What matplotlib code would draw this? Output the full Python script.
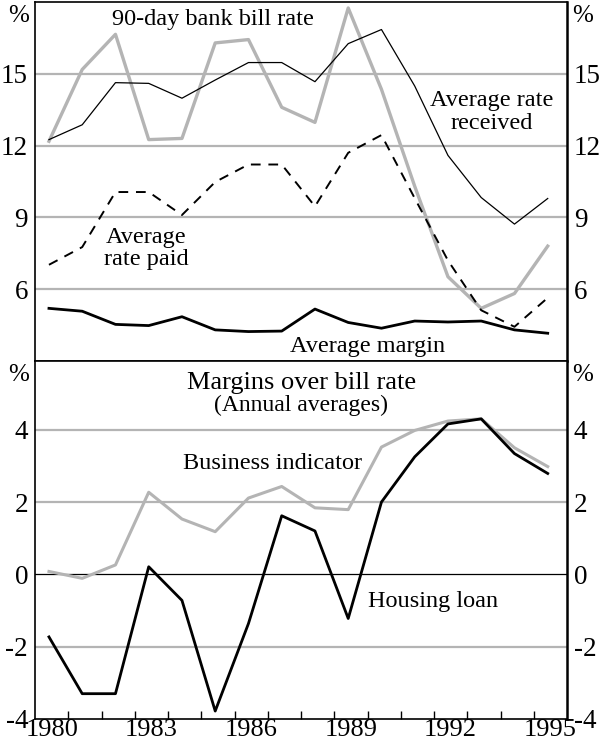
import matplotlib
matplotlib.use("Agg")
import matplotlib.pyplot as plt

plt.rcParams['font.family'] = ['Liberation Serif', 'DejaVu Serif']

years = list(range(1980, 1996))

# top panel (%)
bill_rate = [12.18, 15.18, 16.65, 12.25, 12.3, 16.29, 16.43, 13.6,
             12.97, 17.75, 14.35, 10.3, 6.52, 5.2, 5.82, 7.8]
rate_received = [12.25, 12.87, 14.63, 14.6, 13.98, 14.74, 15.47, 15.47,
                 14.67, 16.26, 16.85, 14.49, 11.59, 9.83, 8.72, 9.79]
rate_paid = [7.02, 7.76, 10.06, 10.06, 9.1, 10.48, 11.21, 11.21,
             9.46, 11.7, 12.44, 9.8, 7.2, 5.12, 4.43, 5.64]
avg_margin = [5.2, 5.08, 4.53, 4.48, 4.85, 4.3, 4.23, 4.25,
              5.17, 4.61, 4.37, 4.67, 4.63, 4.67, 4.3, 4.16]

# bottom panel: margins over bill rate (%)
business = [0.08, -0.11, 0.26, 2.27, 1.53, 1.18, 2.11, 2.43,
            1.84, 1.79, 3.52, 3.98, 4.24, 4.3, 3.5, 2.98]
housing = [-1.73, -3.3, -3.3, 0.21, -0.72, -3.78, -1.36, 1.62,
           1.2, -1.22, 2.0, 3.25, 4.16, 4.3, 3.34, 2.79]

top_ticks = [6, 9, 12, 15]
bot_ticks = [-4, -2, 0, 2, 4]
year_labels = [1980, 1983, 1986, 1989, 1992, 1995]

x = [y + 0.42 for y in years]
grey = '#b4b4b4'
fs_tick = 19.5
fs_note = 17.5

fig = plt.figure(figsize=(6, 7.47), dpi=100)
ax1 = fig.add_axes([35/600, 1-361/747, 532/600, 359/747])
ax2 = fig.add_axes([35/600, 1-719/747, 532/600, 358/747])

for ax in (ax1, ax2):
    ax.set_xlim(1980, 1996)
    for s in ax.spines.values():
        s.set_linewidth(1.2)
    ax.spines['right'].set_linewidth(1.8)
    ax.tick_params(axis='y', length=0, labelsize=fs_tick, pad=5,
                   left=True, right=True, labelleft=True, labelright=True)

# ---- top panel
ax1.set_ylim(3, 18)
for g in top_ticks:
    ax1.axhline(g, color=grey, lw=1.6, zorder=1)
ax1.plot(x, bill_rate, color=grey, lw=2.4, zorder=2)
ax1.plot(x, rate_received, color='black', lw=0.9, zorder=3)
ax1.plot(x, rate_paid, color='black', lw=1.4, ls=(0, (5, 4)), zorder=3)
ax1.plot(x, avg_margin, color='black', lw=2.0, zorder=3)
ax1.set_yticks(top_ticks)
ax1.set_yticklabels([str(t) for t in top_ticks])
ax1.set_xticks([])
ax1.text(-0.03, 0.962, '%', transform=ax1.transAxes, ha='center', va='center', fontsize=18)
ax1.text(1.03, 0.962, '%', transform=ax1.transAxes, ha='center', va='center', fontsize=18)

ax1.text(1985.35, 17.27, '90-day bank bill rate', ha='center', va='center', fontsize=fs_note)
ax1.text(1993.75, 13.4, 'Average rate\nreceived', ha='center', va='center',
         fontsize=fs_note, linespacing=1.15)
ax1.text(1983.35, 7.7, 'Average\nrate paid', ha='center', va='center',
         fontsize=fs_note, linespacing=1.05)
ax1.text(1990.0, 3.62, 'Average margin', ha='center', va='center', fontsize=fs_note)

# ---- bottom panel
ax2.set_ylim(-4, 5.9)
for g in [-2, 2, 4]:
    ax2.axhline(g, color=grey, lw=1.6, zorder=1)
ax2.axhline(0, color='black', lw=0.9, zorder=1)
ax2.plot(x, business, color=grey, lw=2.2, zorder=2)
ax2.plot(x, housing, color='black', lw=2.0, zorder=3)
ax2.set_yticks(bot_ticks)
ax2.set_yticklabels([str(t) for t in bot_ticks])
ax2.set_xticks(range(1981, 1996))
ax2.set_xticklabels([])
ax2.tick_params(axis='x', direction='in', length=6, width=1)
ax2.set_xticks([y + 0.5 for y in year_labels], minor=True)
ax2.set_xticklabels([str(y) for y in year_labels], minor=True)
ax2.tick_params(axis='x', which='minor', length=0, labelsize=19, pad=0)
ax2.text(-0.03, 0.96, '%', transform=ax2.transAxes, ha='center', va='center', fontsize=18)
ax2.text(1.03, 0.96, '%', transform=ax2.transAxes, ha='center', va='center', fontsize=18)

ax2.text(1988.03, 5.29, 'Margins over bill rate', ha='center', va='center', fontsize=19)
ax2.text(1988.0, 4.66, '(Annual averages)', ha='center', va='center', fontsize=17)
ax2.text(1987.14, 3.07, 'Business indicator', ha='center', va='center', fontsize=fs_note)
ax2.text(1991.98, -0.74, 'Housing loan', ha='center', va='center', fontsize=fs_note)

fig.savefig('out.png', dpi=100)
